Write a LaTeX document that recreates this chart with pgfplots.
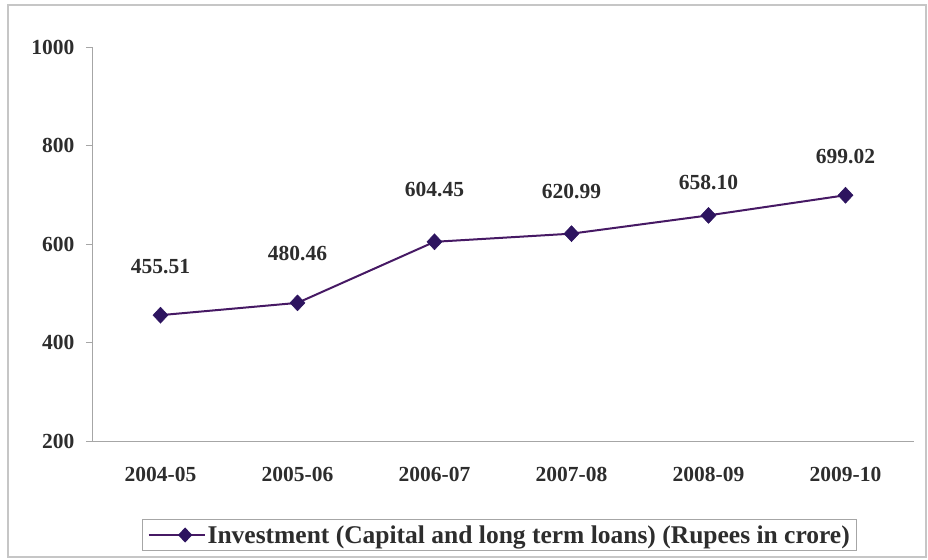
\documentclass[border=0pt]{standalone}
\usepackage{pgfplots}
\pgfplotsset{compat=1.18}
\usetikzlibrary{shapes.geometric}
\usepackage{fontspec}
\setmainfont{Liberation Serif}
\definecolor{linecol}{RGB}{70,25,100}
\definecolor{markcol}{RGB}{45,20,95}
\definecolor{txtcol}{RGB}{45,45,45}
\begin{document}
\begin{tikzpicture}[x=1pt,y=1pt]
\useasboundingbox (0,0) rectangle (928,559);
\draw[gray!45, line width=1.2pt] (8,2) rectangle (926,554);
\begin{axis}[
  at={(92pt,118pt)}, anchor=south west,
  scale only axis, width=822pt, height=394pt,
  xmin=-0.5, xmax=5.5, ymin=200, ymax=1000,
  axis x line*=bottom, axis y line*=left,
  axis line style={gray!70, line width=0.9pt},
  xtick={0,...,5},
  xticklabels={2004-05,2005-06,2006-07,2007-08,2008-09,2009-10},
  x tick style={draw=none},
  extra x ticks={-0.5,0.5,1.5,2.5,3.5,4.5},
  extra x tick labels={},
  extra x tick style={tick style={draw=gray!70, line width=0.9pt}, major tick length=6pt},
  ytick={200,400,600,800,1000},
  y tick style={draw=gray!70, line width=0.9pt},
  tick align=outside, major tick length=6pt,
  yticklabel style={xshift=-8pt},
  xticklabel style={yshift=-17pt},
  ticklabel style={font=\fontsize{21.5}{25}\selectfont\bfseries, text=txtcol},
  /pgf/number format/assume math mode=true,
  /pgf/number format/1000 sep={},
  clip=false,
  legend style={at={(0.496,-0.2386)}, anchor=center, draw=gray!70, line width=0.9pt,
    font=\fontsize{25.5}{29}\selectfont\bfseries, text=txtcol, inner xsep=5pt, inner ysep=4pt,
    legend cell align=left},
  legend image code/.code={
    \draw[linecol, line width=2pt] (0pt,0pt) -- (56pt,0pt);
    \node[diamond, fill=markcol, inner sep=0pt, minimum width=15pt, minimum height=16pt] at (28pt,0pt) {};
  },
]
\addplot[linecol, line width=2pt, mark=diamond*, mark size=8pt,
  mark options={fill=markcol, draw=markcol, line width=0.5pt, xscale=1.25}]
  coordinates {(0,455.51) (1,480.46) (2,604.45) (3,620.99) (4,658.10) (5,699.02)};
\addlegendentry{Investment (Capital and long term loans) (Rupees in crore)}
\begin{scope}[every node/.style={font=\fontsize{21.5}{25}\selectfont\bfseries, text=txtcol}]
\node at (axis cs:0,555) {455.51};
\node at (axis cs:1,580) {480.46};
\node at (axis cs:2,710) {604.45};
\node at (axis cs:3,706) {620.99};
\node at (axis cs:4,724) {658.10};
\node at (axis cs:5,777) {699.02};
\end{scope}
\end{axis}
\end{tikzpicture}
\end{document}
